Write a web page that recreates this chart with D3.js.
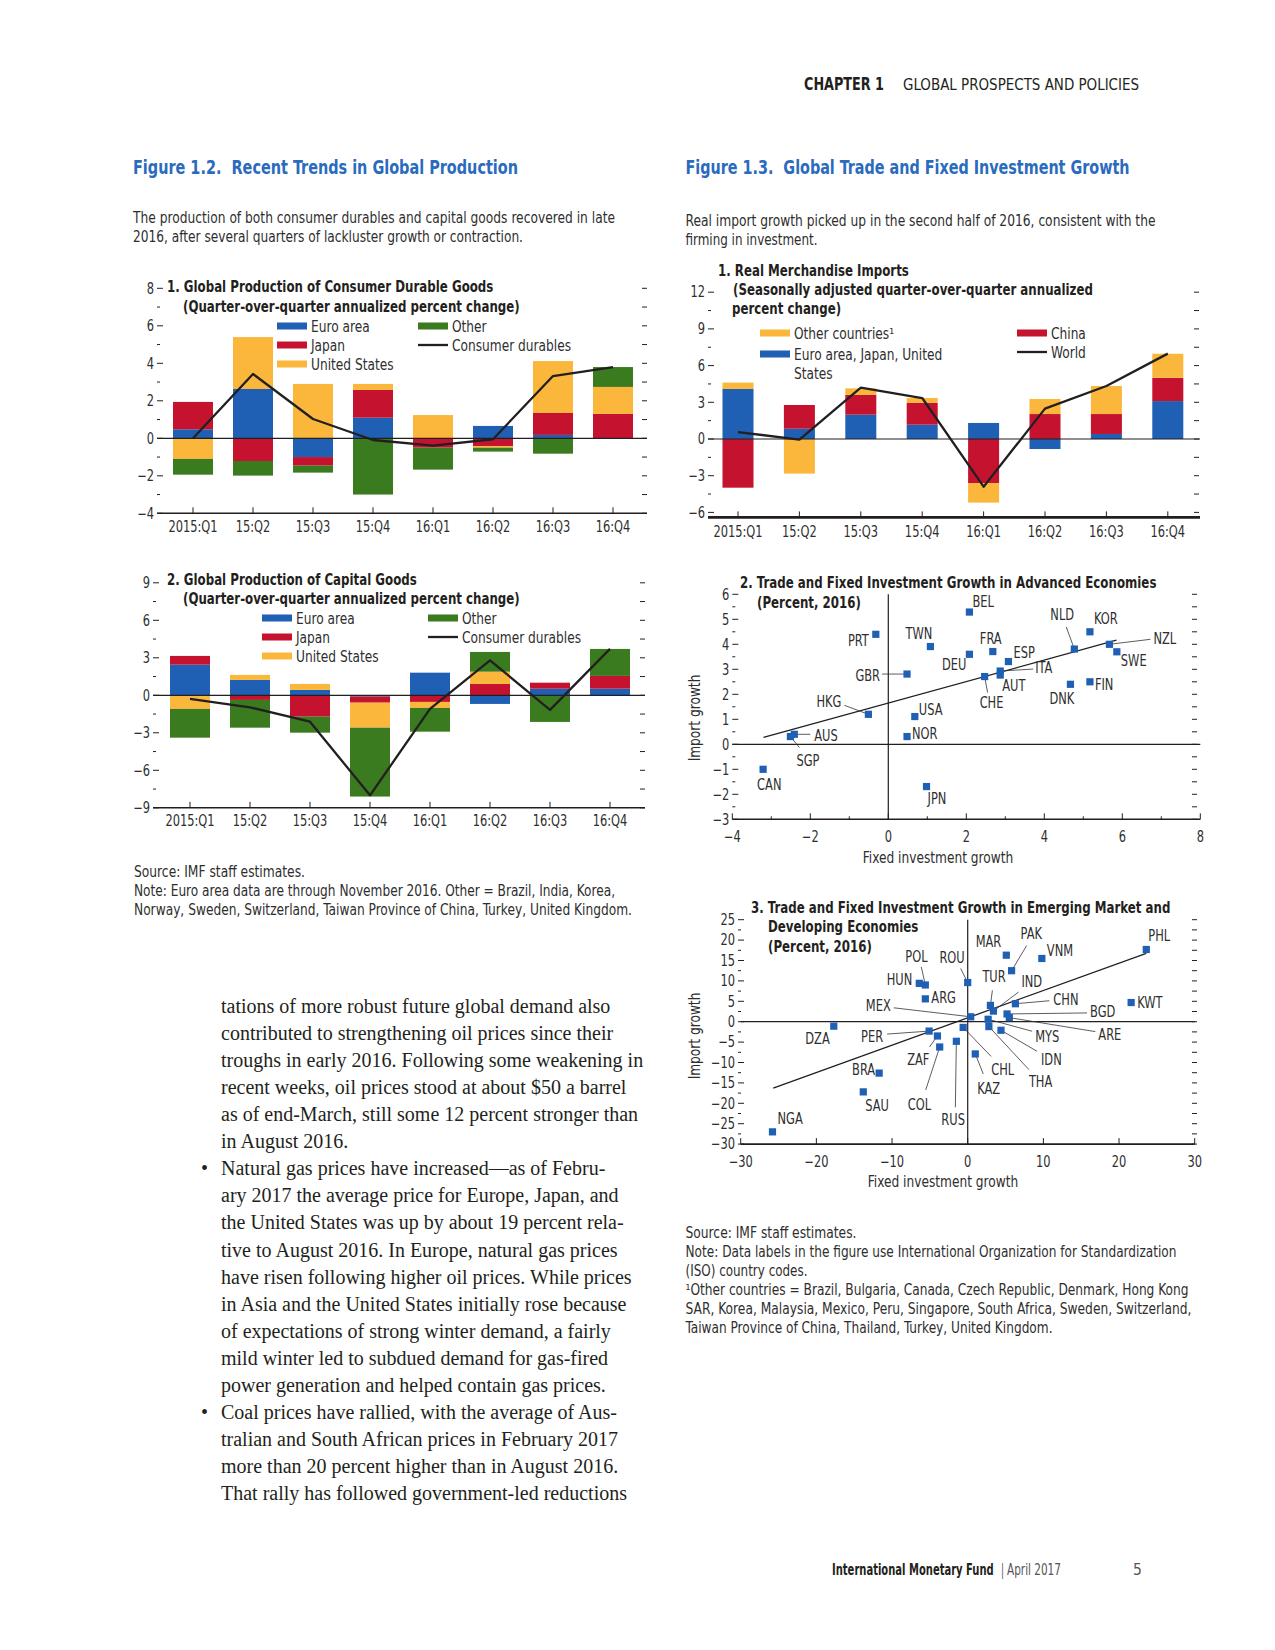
<!DOCTYPE html>
<html>
<head>
<meta charset="utf-8">
<script src="https://cdn.jsdelivr.net/npm/d3@7"></script>
<style>
  body { margin: 0; background: #fff; }
</style>
</head>
<body>
<script>
// ---- data: Figure 1.2 ----
const quarters = ["2015:Q1", "15:Q2", "15:Q3", "15:Q4", "16:Q1", "16:Q2", "16:Q3", "16:Q4"];

const durEuro  = [0.48, 2.63, -1.00, 1.10, 0.00, 0.66, 0.18, 0.00];
const durJapan = [1.46, -1.21, -0.46, 1.48, -0.50, -0.41, 1.17, 1.30];
const durUS    = [-1.10, 2.77, 2.90, 0.32, 1.24, -0.09, 2.77, 1.44];
const durOther = [-0.84, -0.78, -0.37, -3.00, -1.17, -0.21, -0.82, 1.06];
const durTotal = [0.00, 3.43, 1.03, -0.09, -0.39, -0.05, 3.32, 3.80];

const capEuro  = [2.45, 1.23, 0.43, -0.10, 1.81, -0.69, 0.53, 0.53];
const capJapan = [0.70, -0.37, -1.71, -0.49, -0.53, 0.91, 0.48, 1.02];
const capUS    = [-1.09, 0.40, 0.48, -2.00, -0.48, 0.98, 0.00, 0.00];
const capOther = [-2.30, -2.22, -1.28, -5.51, -1.90, 1.58, -2.13, 2.16];
const capTotal = [-0.29, -0.96, -2.11, -8.00, -1.09, 2.80, -1.17, 3.71];

// ---- data: Figure 1.3 ----
const impAdvanced = [4.09, 0.84, 1.99, 1.17, 1.31, -0.82, 0.41, 3.10];
const impChina    = [-3.98, 1.94, 1.61, 1.80, -3.60, 2.04, 1.63, 1.90];
const impOther    = [0.52, -2.83, 0.54, 0.38, -1.60, 1.23, 2.29, 1.97];
const impWorld    = [0.57, -0.05, 4.20, 3.35, -3.90, 2.48, 4.33, 6.98];

const advCodes  = ["BEL","PRT","TWN","DEU","FRA","ESP","GBR","ITA","AUT","CHE","NLD","KOR","NZL","SWE","DNK","FIN","HKG","USA","NOR","AUS","SGP","CAN","JPN"];
const advInvest = [2.08, -0.32, 1.08, 2.08, 2.68, 3.08, 0.48, 2.87, 2.87, 2.47, 4.77, 5.17, 5.67, 5.86, 4.67, 5.17, -0.51, 0.68, 0.48, -2.41, -2.51, -3.21, 0.98];
const advImport = [5.29, 4.40, 3.91, 3.60, 3.71, 3.31, 2.81, 2.93, 2.77, 2.71, 3.81, 4.50, 4.00, 3.70, 2.40, 2.50, 1.20, 1.11, 0.31, 0.40, 0.31, -1.00, -1.69];
const advFit = [0.43, 1.65];        // slope, intercept
const advFitSpan = [-3.2, 5.85];

const emCodes  = ["NGA","SAU","BRA","DZA","PER","ZAF","COL","RUS","CHL","KAZ","MEX","HUN","POL","ARG","ROU","MAR","PAK","VNM","TUR","IND","CHN","BGD","ARE","MYS","IDN","THA","KWT","PHL"];
const emInvest = [-25.8, -13.8, -11.7, -17.7, -5.1, -4.0, -3.7, -1.5, -0.6, 1.0, 0.4, -6.4, -5.6, -5.6, 0.0, 5.1, 5.8, 9.8, 3.0, 3.4, 6.3, 5.2, 5.5, 2.7, 4.4, 2.8, 21.6, 23.6];
const emImport = [-27.0, -17.2, -12.6, -1.1, -2.3, -3.5, -6.2, -4.8, -1.4, -7.9, 1.2, 9.4, 9.0, 5.6, 9.6, 16.3, 12.5, 15.5, 4.0, 2.6, 4.4, 1.9, 1.0, 0.6, -2.1, -1.2, 4.7, 17.7];
const emFit = [0.67, 0.95];
const emFitSpan = [-25.7, 23.6];

// label placement (pixel offsets from the marker): dx, dy, anchor
const advLabelPos = {
  BEL:[3,-5,"start"], PRT:[-7,12,"end"], TWN:[-25,-8,"start"], DEU:[-3,16,"end"], FRA:[-13,-8,"start"],
  ESP:[5,-4,"start"], GBR:[-27,7,"end"], ITA:[35,2,"start"], AUT:[2,16,"start"], CHE:[-5,31,"start"],
  NLD:[-24,-29,"start"], KOR:[4,-8,"start"], NZL:[44,0,"start"], SWE:[4,14,"start"], DNK:[-21,20,"start"],
  FIN:[5,8,"start"], HKG:[-27,-7,"end"], USA:[4,-2,"start"], NOR:[5,2,"start"], AUS:[20,7,"start"],
  SGP:[6,29,"start"], CAN:[-6,21,"start"], JPN:[1,17,"start"]
};
const advLeaders = { GBR:[-25,0], ITA:[33,-2], CHE:[3,16], NLD:[-8,-22], NZL:[41,-5], HKG:[-24,-9], AUS:[16,0], SGP:[9,11] };

const emLabelPos = {
  NGA:[5,-8,"start"], SAU:[2,19,"start"], BRA:[-4,2,"end"], DZA:[-4,18,"end"], PER:[-46,11,"end"],
  ZAF:[-8,29,"end"], COL:[-32,63,"start"], RUS:[-15,84,"start"], CHL:[28,48,"start"], KAZ:[2,40,"start"],
  MEX:[-80,-6,"end"], HUN:[-7,2,"end"], POL:[-20,-23,"start"], ARG:[6,4,"start"], ROU:[-3,-20,"end"],
  MAR:[-5,-8,"end"], PAK:[9,-32,"start"], VNM:[5,-2,"start"], TUR:[-8,-23,"start"], IND:[28,-24,"start"],
  CHN:[38,1,"start"], BGD:[83,3,"start"], ARE:[89,22,"start"], MYS:[47,23,"start"], IDN:[40,35,"start"],
  THA:[40,60,"start"], KWT:[6,5,"start"], PHL:[2,-8,"start"]
};
const emLeaders = {
  PER:[-42,3], ZAF:[-8,11], COL:[-14,43], RUS:[-1,66], CHL:[28,29], KAZ:[8,20], MEX:[-77,-9],
  POL:[-4,-18], ROU:[-7,-14], PAK:[15,-25], TUR:[2,-15], IND:[25,-19], CHN:[34,-3], BGD:[80,-1],
  ARE:[86,14], MYS:[44,12], IDN:[36,21], THA:[40,43]
};

// ---- styles ----
const NARROW = "'Liberation Sans Narrow','Arial Narrow','DejaVu Sans Condensed',sans-serif";
const SERIF = "'Liberation Serif','Times New Roman',serif";
const INK = "#231f20";
const SOFT = "#2e2e2e";
const BLUE_TITLE = "#2a6bbd";
const C = { blue: "#1f5fb4", red: "#c5132f", yellow: "#fbb73c", green: "#3b7b1f" };

const svg = d3.select("body").append("svg")
  .attr("width", 1275).attr("height", 1650)
  .style("font-family", NARROW);

function txt(g, x, y, s, o = {}) {
  const t = g.append("text").attr("x", x).attr("y", y).text(s)
    .attr("font-size", o.size || 15)
    .attr("fill", o.fill || SOFT)
    .attr("text-anchor", o.anchor || "start");
  if (o.weight) t.attr("font-weight", o.weight);
  if (o.family) t.attr("font-family", o.family);
  if (o.dy) t.attr("dy", o.dy);
  if (o.width) t.attr("textLength", o.width).attr("lengthAdjust", "spacingAndGlyphs");
  return t;
}
// draw a text at its natural size, then narrow it with a horizontal scale to the wanted width
function scaledTxt(g, x, y, s, width, o = {}) {
  const holder = g.append("g");
  const t = txt(holder, 0, 0, s, o);
  const k = width / t.node().getComputedTextLength();
  holder.attr("transform", `translate(${x},${y}) scale(${k},1)`);
  return t;
}
function seg(g, x1, y1, x2, y2, w = 1, col = INK) {
  return g.append("line").attr("x1", x1).attr("y1", y1).attr("x2", x2).attr("y2", y2)
    .attr("stroke", col).attr("stroke-width", w);
}
const isMul = (v, step) => Math.abs(v / step - Math.round(v / step)) < 1e-6;
const fmt = d3.format("d");

// ---- stacked bar panels ----
function stackedPanel(o) {
  const g = svg.append("g");
  const rows = quarters.map((q, i) => {
    const r = { q };
    o.series.forEach(s => { r[s.name] = s.values[i]; });
    return r;
  });
  const x = d3.scaleBand().domain(quarters).range(o.xRange).paddingInner(o.pad).paddingOuter(o.pad / 2);
  const y = d3.scaleLinear().domain(o.yDomain).range(o.yRange);
  const layers = d3.stack().keys(o.series.map(s => s.name)).offset(d3.stackOffsetDiverging)(rows);

  g.selectAll("g.layer").data(layers).join("g")
    .attr("fill", (d, i) => o.series[i].color)
    .selectAll("rect").data(d => d).join("rect")
    .attr("x", d => x(d.data.q))
    .attr("width", x.bandwidth())
    .attr("y", d => y(Math.max(d[0], d[1])))
    .attr("height", d => Math.abs(y(d[0]) - y(d[1])));

  seg(g, o.axisX[0], y(0), o.axisX[1], y(0), 1.2);

  const cx = q => x(q) + x.bandwidth() / 2;
  g.append("path").datum(o.line)
    .attr("fill", "none").attr("stroke", INK).attr("stroke-width", 2.3).attr("stroke-linejoin", "round")
    .attr("d", d3.line().x((d, i) => cx(quarters[i])).y(d => y(d)));

  const base = y(o.yDomain[0]) + (o.axisShift || 0);
  seg(g, o.axisX[0], base, o.axisX[1], base, o.axisWidth);
  g.selectAll("line.xt").data(quarters).join("line").attr("class", "xt")
    .attr("x1", cx).attr("x2", cx).attr("y1", base).attr("y2", base - 6)
    .attr("stroke", INK).attr("stroke-width", 1);
  g.selectAll("text.xl").data(quarters).join("text").attr("class", "xl")
    .attr("x", cx).attr("y", o.xLabelY).attr("text-anchor", "middle")
    .attr("font-size", 15).attr("fill", SOFT).text(d => d);

  const vals = d3.range(o.yDomain[0], o.yDomain[1] + 1e-6, o.minor);
  g.selectAll("line.yt").data(vals).join("line").attr("class", "yt")
    .attr("x1", o.tickX).attr("x2", d => o.tickX + (isMul(d, o.major) ? 6 : 3))
    .attr("y1", d => y(d)).attr("y2", d => y(d)).attr("stroke", INK).attr("stroke-width", 1);
  g.selectAll("line.yr").data(vals).join("line").attr("class", "yr")
    .attr("x1", o.rightX - 5).attr("x2", o.rightX)
    .attr("y1", d => y(d)).attr("y2", d => y(d)).attr("stroke", INK).attr("stroke-width", 1);
  g.selectAll("text.yl").data(vals.filter(d => isMul(d, o.major))).join("text").attr("class", "yl")
    .attr("x", o.tickX - 3).attr("y", d => y(d)).attr("dy", "0.35em")
    .attr("text-anchor", "end").attr("font-size", 15).attr("fill", SOFT).text(fmt);

  o.title.forEach(t => txt(g, t[0], t[1], t[2], { size: 15.5, weight: "bold", fill: INK }));

  o.legend.forEach(l => {
    if (l.color) {
      g.append("rect").attr("x", l.x).attr("y", l.y - 3.5).attr("width", 30).attr("height", 7).attr("fill", l.color);
    } else {
      seg(g, l.x, l.y, l.x + 30, l.y, 2.3);
    }
    l.label.forEach((s, k) => txt(g, l.x + 34, l.y + k * 19, s, { size: 16, dy: "0.35em" }));
  });
}

stackedPanel({
  series: [
    { name: "Euro area", values: durEuro, color: C.blue },
    { name: "Japan", values: durJapan, color: C.red },
    { name: "United States", values: durUS, color: C.yellow },
    { name: "Other", values: durOther, color: C.green }
  ],
  line: durTotal,
  xRange: [163, 643], pad: 1 / 3,
  yDomain: [-4, 8], yRange: [513.3, 288.3], major: 2, minor: 1,
  tickX: 157, rightX: 647, axisX: [157, 647], axisWidth: 1.6, xLabelY: 532,
  title: [[167, 292, "1. Global Production of Consumer Durable Goods"],
          [183, 312, "(Quarter-over-quarter annualized percent change)"]],
  legend: [
    { x: 277, y: 326, color: C.blue, label: ["Euro area"] },
    { x: 277, y: 345, color: C.red, label: ["Japan"] },
    { x: 277, y: 364, color: C.yellow, label: ["United States"] },
    { x: 418, y: 326, color: C.green, label: ["Other"] },
    { x: 418, y: 345, label: ["Consumer durables"] }
  ]
});

stackedPanel({
  series: [
    { name: "Euro area", values: capEuro, color: C.blue },
    { name: "Japan", values: capJapan, color: C.red },
    { name: "United States", values: capUS, color: C.yellow },
    { name: "Other", values: capOther, color: C.green }
  ],
  line: capTotal,
  xRange: [160, 640], pad: 1 / 3,
  yDomain: [-9, 9], yRange: [807.8, 582.8], major: 3, minor: 1.5,
  tickX: 153, rightX: 645, axisX: [153, 645], axisWidth: 1.6, xLabelY: 826,
  title: [[167, 585, "2. Global Production of Capital Goods"],
          [183, 604, "(Quarter-over-quarter annualized percent change)"]],
  legend: [
    { x: 262, y: 618, color: C.blue, label: ["Euro area"] },
    { x: 262, y: 637, color: C.red, label: ["Japan"] },
    { x: 262, y: 656, color: C.yellow, label: ["United States"] },
    { x: 428, y: 618, color: C.green, label: ["Other"] },
    { x: 428, y: 637, label: ["Consumer durables"] }
  ]
});

stackedPanel({
  series: [
    { name: "Euro area, Japan, United States", values: impAdvanced, color: C.blue },
    { name: "China", values: impChina, color: C.red },
    { name: "Other countries", values: impOther, color: C.yellow }
  ],
  line: impWorld,
  xRange: [707.3, 1198.5], pad: 0.495,
  yDomain: [-6, 12], yRange: [512.4, 292.2], major: 3, minor: 1.5,
  tickX: 708, rightX: 1199, axisX: [708, 1200], axisShift: 5, axisWidth: 2.6, xLabelY: 537,
  title: [[718, 276, "1. Real Merchandise Imports"],
          [733, 295, "(Seasonally adjusted quarter-over-quarter annualized"],
          [732, 314, "percent change)"]],
  legend: [
    { x: 760, y: 333, color: C.yellow, label: ["Other countries\u00b9"] },
    { x: 760, y: 354, color: C.blue, label: ["Euro area, Japan, United", "States"] },
    { x: 1017, y: 333, color: C.red, label: ["China"] },
    { x: 1017, y: 352, label: ["World"] }
  ]
});

// ---- scatter panels ----
function scatterPanel(o) {
  const g = svg.append("g");
  const x = d3.scaleLinear().domain(o.xDomain).range(o.xRange);
  const y = d3.scaleLinear().domain(o.yDomain).range(o.yRange);
  const yb = y(o.yDomain[0]);

  seg(g, o.xRange[0], yb, o.xRange[1], yb, 1.6);
  seg(g, o.xRange[0], y(0), o.xRange[1], y(0), 1.2);
  seg(g, x(0), o.yRange[1], x(0), yb, 1.2);

  const xv = d3.range(o.xDomain[0], o.xDomain[1] + 1e-6, o.xMinor);
  g.selectAll("line.xt").data(xv).join("line").attr("class", "xt")
    .attr("x1", d => x(d)).attr("x2", d => x(d))
    .attr("y1", yb).attr("y2", d => yb - (isMul(d, o.xMajor) ? 6 : 3))
    .attr("stroke", INK).attr("stroke-width", 1);
  g.selectAll("text.xl").data(xv.filter(d => isMul(d, o.xMajor))).join("text").attr("class", "xl")
    .attr("x", d => x(d)).attr("y", o.xLabelY).attr("text-anchor", "middle")
    .attr("font-size", 15).attr("fill", SOFT).text(fmt);

  const yv = d3.range(o.yDomain[0], o.yDomain[1] + 1e-6, o.yMinor);
  g.selectAll("line.yt").data(yv).join("line").attr("class", "yt")
    .attr("x1", o.tickX).attr("x2", d => o.tickX + (isMul(d, o.yMajor) ? 6 : 3))
    .attr("y1", d => y(d)).attr("y2", d => y(d)).attr("stroke", INK).attr("stroke-width", 1);
  g.selectAll("line.yr").data(yv).join("line").attr("class", "yr")
    .attr("x1", o.rightX - 5).attr("x2", o.rightX)
    .attr("y1", d => y(d)).attr("y2", d => y(d)).attr("stroke", INK).attr("stroke-width", 1);
  g.selectAll("text.yl").data(yv.filter(d => isMul(d, o.yMajor))).join("text").attr("class", "yl")
    .attr("x", o.tickX - 3).attr("y", d => y(d)).attr("dy", "0.35em")
    .attr("text-anchor", "end").attr("font-size", 15).attr("fill", SOFT).text(fmt);

  const f = v => o.fit[0] * v + o.fit[1];
  seg(g, x(o.fitSpan[0]), y(f(o.fitSpan[0])), x(o.fitSpan[1]), y(f(o.fitSpan[1])), 1.3);

  const pts = o.codes.map((c, i) => ({ c, px: x(o.xs[i]), py: y(o.ys[i]) }));
  pts.filter(p => o.leaders[p.c]).forEach(p => {
    const L = o.leaders[p.c];
    seg(g, p.px, p.py, p.px + L[0], p.py + L[1], 0.8, "#333");
  });
  g.selectAll("rect.pt").data(pts).join("rect").attr("class", "pt")
    .attr("x", p => p.px - 3.6).attr("y", p => p.py - 3.6)
    .attr("width", 7.2).attr("height", 7.2).attr("fill", C.blue);
  g.selectAll("text.pl").data(pts).join("text").attr("class", "pl")
    .attr("x", p => p.px + o.labels[p.c][0]).attr("y", p => p.py + o.labels[p.c][1])
    .attr("text-anchor", p => o.labels[p.c][2])
    .attr("font-size", 15).attr("fill", SOFT).text(p => p.c);

  o.title.forEach(t => txt(g, t[0], t[1], t[2], { size: 15.5, weight: "bold", fill: INK }));
  txt(g, o.xTitle[0], o.xTitle[1], "Fixed investment growth", { size: 16, anchor: "middle" });
  g.append("text").attr("transform", `translate(${o.yTitle[0]},${o.yTitle[1]}) rotate(-90)`)
    .attr("text-anchor", "middle").attr("font-size", 16).attr("fill", SOFT).text("Import growth");
}

scatterPanel({
  codes: advCodes, xs: advInvest, ys: advImport, fit: advFit, fitSpan: advFitSpan,
  labels: advLabelPos, leaders: advLeaders,
  xDomain: [-4, 8], xRange: [732.3, 1200.3], xMajor: 2, xMinor: 1,
  yDomain: [-3, 6], yRange: [819.3, 594.3], yMajor: 1, yMinor: 0.5,
  tickX: 732.3, rightX: 1197, xLabelY: 842,
  xTitle: [938, 863], yTitle: [700, 718],
  title: [[740, 588, "2. Trade and Fixed Investment Growth in Advanced Economies"],
          [757, 608, "(Percent, 2016)"]]
});

scatterPanel({
  codes: emCodes, xs: emInvest, ys: emImport, fit: emFit, fitSpan: emFitSpan,
  labels: emLabelPos, leaders: emLeaders,
  xDomain: [-30, 30], xRange: [740.7, 1194.7], xMajor: 10, xMinor: 10,
  yDomain: [-30, 25], yRange: [1144.1, 919.7], yMajor: 5, yMinor: 2.5,
  tickX: 738, rightX: 1197, xLabelY: 1167,
  xTitle: [943, 1187], yTitle: [700, 1036],
  title: [[751, 913, "3. Trade and Fixed Investment Growth in Emerging Market and"],
          [768, 932, "Developing Economies"],
          [768, 952, "(Percent, 2016)"]]
});

// chart text uses a condensed face; if the installed one runs wide, compress it to the reference widths
{
  const probe = svg.append("text").attr("font-size", 16).text("Consumer durables");
  const k = Math.min(1, 119 / probe.node().getComputedTextLength());
  probe.remove();
  svg.selectAll("text").each(function () {
    const w = this.getComputedTextLength();
    d3.select(this).attr("textLength", w * k).attr("lengthAdjust", "spacingAndGlyphs");
  });
}

// ---- page text ----
const page = svg.append("g");
txt(page, 804, 90, "CHAPTER 1", { size: 17, weight: "bold", fill: INK, width: 80 });
txt(page, 903, 90, "GLOBAL PROSPECTS AND POLICIES", { size: 15, fill: INK, width: 236 });

txt(page, 133, 174, "Figure 1.2.\u00a0\u00a0Recent Trends in Global Production", { size: 20, weight: "bold", fill: BLUE_TITLE, width: 385 });
txt(page, 685.5, 174, "Figure 1.3.\u00a0\u00a0Global Trade and Fixed Investment Growth", { size: 20, weight: "bold", fill: BLUE_TITLE, width: 444 });

txt(page, 133, 223, "The production of both consumer durables and capital goods recovered in late", { size: 15, width: 482 });
txt(page, 133, 242, "2016, after several quarters of lackluster growth or contraction.", { size: 15, width: 390 });
txt(page, 685.5, 226, "Real import growth picked up in the second half of 2016, consistent with the", { size: 15, width: 470 });
txt(page, 685.5, 245, "firming in investment.", { size: 15, width: 132 });

txt(page, 134, 877, "Source: IMF staff estimates.", { size: 15, width: 171 });
txt(page, 134, 896, "Note: Euro area data are through November 2016. Other = Brazil, India, Korea,", { size: 15, width: 481 });
txt(page, 134, 915, "Norway, Sweden, Switzerland, Taiwan Province of China, Turkey, United Kingdom.", { size: 15, width: 498 });

const rightNotes = [
  ["Source: IMF staff estimates.", 171],
  ["Note: Data labels in the figure use International Organization for Standardization", 491],
  ["(ISO) country codes.", 122],
  ["\u00b9Other countries = Brazil, Bulgaria, Canada, Czech Republic, Denmark, Hong Kong", 503],
  ["SAR, Korea, Malaysia, Mexico, Peru, Singapore, South Africa, Sweden, Switzerland,", 506],
  ["Taiwan Province of China, Thailand, Turkey, United Kingdom.", 367]
];
rightNotes.forEach((n, i) => txt(page, 685.5, 1238 + i * 19, n[0], { size: 15, width: n[1] }));

const bodyLines = [
  ["tations of more robust future global demand also"],
  ["contributed to strengthening oil prices since their"],
  ["troughs in early 2016. Following some weakening in"],
  ["recent weeks, oil prices stood at about $50 a barrel"],
  ["as of end-March, still some 12 percent stronger than"],
  ["in August 2016."],
  ["Natural gas prices have increased\u2014as of Febru-", true],
  ["ary 2017 the average price for Europe, Japan, and"],
  ["the United States was up by about 19 percent rela-"],
  ["tive to August 2016. In Europe, natural gas prices"],
  ["have risen following higher oil prices. While prices"],
  ["in Asia and the United States initially rose because"],
  ["of expectations of strong winter demand, a fairly"],
  ["mild winter led to subdued demand for gas-fired"],
  ["power generation and helped contain gas prices."],
  ["Coal prices have rallied, with the average of Aus-", true],
  ["tralian and South African prices in February 2017"],
  ["more than 20 percent higher than in August 2016."],
  ["That rally has followed government-led reductions"]
];
bodyLines.forEach((l, i) => {
  const yy = 1013 + i * 27.06;
  txt(page, 221, yy, l[0], { size: 20, family: SERIF, fill: INK });
  if (l[1]) txt(page, 201, yy, "\u2022", { size: 20, family: SERIF, fill: INK });
});

scaledTxt(page, 832, 1575, "International Monetary Fund", 162, { size: 15.5, weight: "bold", fill: INK });
scaledTxt(page, 1001, 1575, "|", 3, { size: 15.5, fill: "#555" });
scaledTxt(page, 1007, 1575, "April 2017", 54, { size: 15.5, fill: "#555" });
txt(page, 1133, 1575, "5", { size: 15.5, fill: "#555" });
</script>
</body>
</html>
